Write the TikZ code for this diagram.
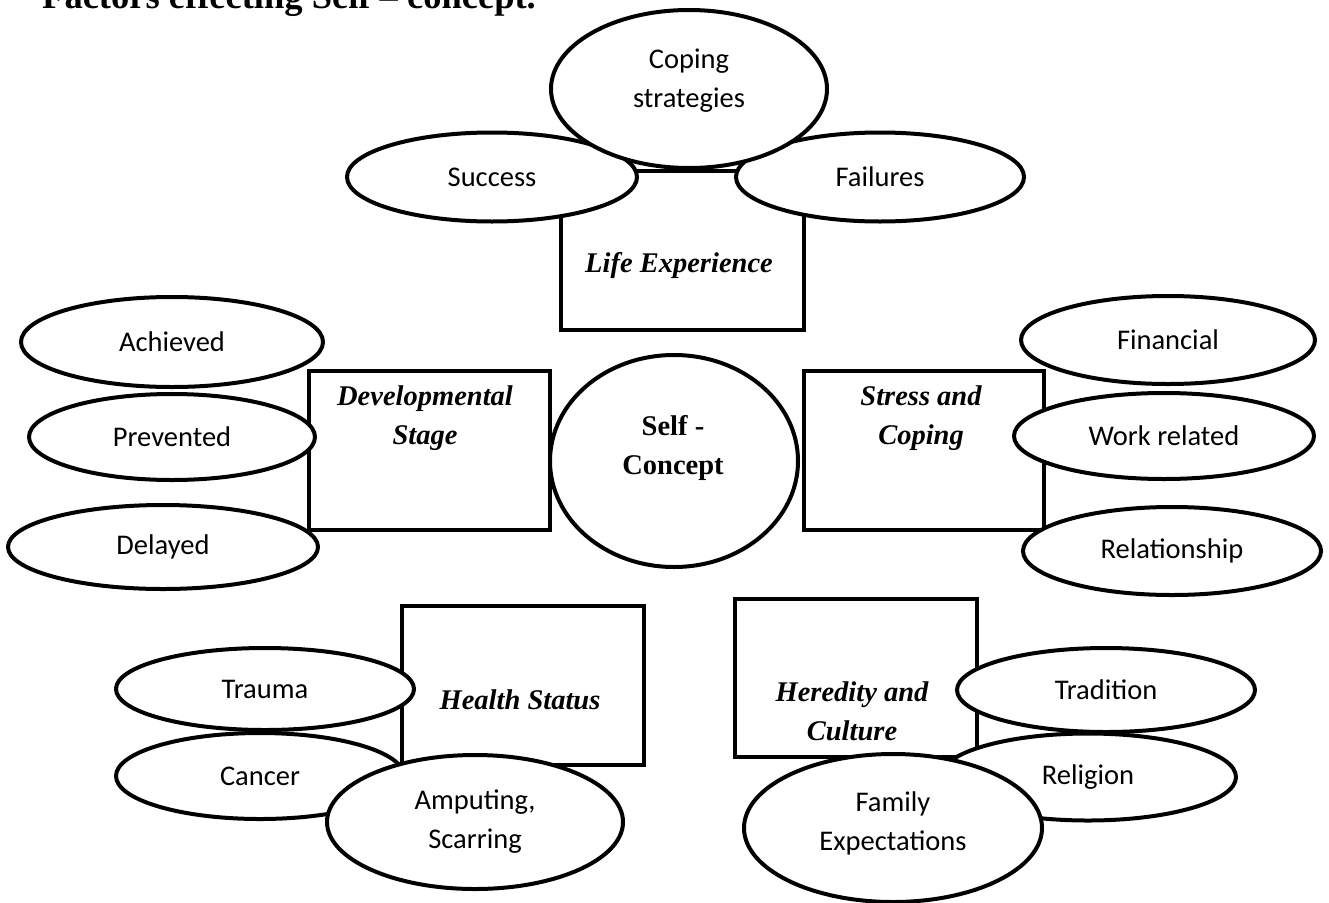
\documentclass[tikz,border=0pt]{standalone}
\usepackage{fontspec}
\setmainfont{Liberation Serif}
\newfontfamily\calfont{Carlito}
\usetikzlibrary{shapes.geometric}
\begin{document}
\begin{tikzpicture}[x=1pt,y=-1pt,
  ell/.style={ellipse,draw,fill=white,line width=4pt,inner sep=0pt,
    font=\calfont\fontsize{28.5}{39}\selectfont,align=center},
  boxnode/.style={rectangle,draw,fill=white,line width=4pt,inner sep=0pt,anchor=north west},
  lbl/.style={font=\fontsize{28.5}{39}\selectfont\bfseries\itshape,align=center,inner sep=0pt},
  clbl/.style={font=\fontsize{28.5}{39}\selectfont\bfseries,align=center,inner sep=0pt},
]
\useasboundingbox (0,0) rectangle (1329,902);
\fill[white] (0,0) rectangle (1329,902);
\begin{scope}
\clip (0,0) rectangle (1329,902);
% title
\node[anchor=base west,inner sep=0pt,font=\fontsize{36.5}{40}\selectfont\bfseries] (title) at (42,8.5) {Factors effecting Self – concept.};

% top group
\node[boxnode,minimum width=243pt,minimum height=159pt] (life) at (559,169) {};
\node[ell,minimum width=290pt,minimum height=89pt] (success) at (492,177) {Success};
\node[ell,minimum width=288pt,minimum height=89pt] (failures) at (880,177) {Failures};
\node[ell,minimum width=276pt,minimum height=158pt] (coping) at (689,89) {};
\node[ell,draw=none,fill=none] (coping-t) at (689,81) {Coping\\strategies};
\node[lbl] (life-t) at (679,265) {Life Experience};

% left group
\node[boxnode,minimum width=241pt,minimum height=159pt] (dev) at (307,369) {};
\node[ell,minimum width=302pt,minimum height=90pt] (achieved) at (172,342) {Achieved};
\node[ell,minimum width=286pt,minimum height=86pt] (prevented) at (172,437) {Prevented};
\node[ell,minimum width=310pt,minimum height=84pt] (delayed) at (163,547) {Delayed};
\node[lbl] (dev-t) at (425,418) {Developmental\\Stage};

% centre
\node[ell,minimum width=248pt,minimum height=212pt] (self) at (674,461) {};
\node[clbl] (self-t) at (673,448) {Self -\\Concept};

% right group
\node[boxnode,minimum width=240pt,minimum height=159pt] (stress) at (802,369) {};
\node[ell,minimum width=294pt,minimum height=88pt] (financial) at (1168,340) {Financial};
\node[ell,minimum width=300pt,minimum height=86pt] (work) at (1164,436) {Work related};
\node[ell,minimum width=298pt,minimum height=88pt] (relationship) at (1172,551) {Relationship};
\node[lbl] (stress-t) at (921,418) {Stress and\\Coping};

% bottom left
\node[boxnode,minimum width=242pt,minimum height=159pt] (health) at (400,604) {};
\node[ell,minimum width=288pt,minimum height=86pt] (cancer) at (260,776) {Cancer};
\node[ell,minimum width=298pt,minimum height=82pt] (trauma) at (265,689) {Trauma};
\node[ell,minimum width=296pt,minimum height=134pt] (amputing) at (475,822) {Amputing,\\Scarring};
\node[lbl] (health-t) at (520,700) {Health Status};

% bottom right
\node[boxnode,minimum width=242pt,minimum height=158pt] (heredity) at (733,597) {};
\node[ell,minimum width=298pt,minimum height=84pt] (tradition) at (1106,690) {Tradition};
\node[lbl] (heredity-t) at (852,711) {Heredity and\\Culture};
\node[ell,minimum width=296pt,minimum height=87pt] (religion) at (1088,777) {Religion};
\node[ell,minimum width=298pt,minimum height=148pt] (family) at (893,828) {};
\node[ell,draw=none,fill=none] (family-t) at (893,823) {Family\\Expectations};
\end{scope}
\end{tikzpicture}
\end{document}
